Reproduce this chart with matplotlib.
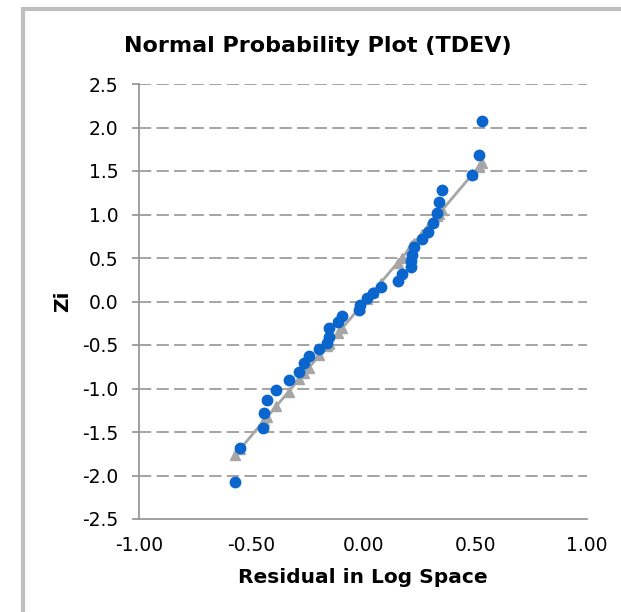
import matplotlib
matplotlib.use("Agg")
import matplotlib.pyplot as plt
from matplotlib.patches import Rectangle

plt.rcParams['font.family'] = ['DejaVu Sans']

# Residuals (x) and normal scores (z)
residual = [-0.570, -0.549, -0.448, -0.441, -0.429, -0.388, -0.332, -0.284, -0.263,
            -0.242, -0.195, -0.159, -0.153, -0.150, -0.110, -0.093, -0.017, -0.013,
            0.017, 0.043, 0.079, 0.155, 0.173, 0.216, 0.216, 0.220, 0.228, 0.263,
            0.290, 0.311, 0.332, 0.338, 0.353, 0.488, 0.517, 0.530]
zi = [-2.08, -1.688, -1.454, -1.282, -1.132, -1.017, -0.906, -0.806, -0.710,
      -0.626, -0.541, -0.472, -0.403, -0.308, -0.236, -0.167, -0.101, -0.035,
      0.035, 0.094, 0.167, 0.236, 0.316, 0.400, 0.466, 0.534, 0.630, 0.715,
      0.799, 0.906, 1.014, 1.140, 1.282, 1.450, 1.684, 2.08]
# Fitted-line values (grey triangles)
z_fit = [-1.761, -1.697, -1.389, -1.368, -1.331, -1.206, -1.036, -0.890, -0.826,
         -0.762, -0.619, -0.509, -0.491, -0.482, -0.360, -0.308, -0.077, -0.065,
         0.027, 0.106, 0.216, 0.447, 0.502, 0.633, 0.633, 0.645, 0.669, 0.776,
         0.858, 0.922, 0.986, 1.004, 1.050, 1.461, 1.549, 1.589]

x_ticks = [-1.0, -0.5, 0.0, 0.5, 1.0]
x_ticklabels = ["-1.00", "-0.50", "0.00", "0.50", "1.00"]
y_ticks = [-2.5, -2.0, -1.5, -1.0, -0.5, 0.0, 0.5, 1.0, 1.5, 2.0, 2.5]
y_ticklabels = ["-2.5", "-2.0", "-1.5", "-1.0", "-0.5", "0.0", "0.5", "1.0", "1.5", "2.0", "2.5"]

W, H = 621, 612
fig = plt.figure(figsize=(W / 100, H / 100), dpi=100)
fig.patch.set_facecolor("white")

# chart-area border (cropped on right and bottom)
fig.patches.append(Rectangle((23 / W, -0.1), 1.2, 1 - 9 / H + 0.1, transform=fig.transFigure,
                             fill=False, edgecolor="#BFBFBF", linewidth=3.0, zorder=0))

ax = fig.add_axes([139 / W, 1 - 519 / H, (587 - 139) / W, (519 - 84) / H])
ax.set_xlim(-1.0, 1.0)
ax.set_ylim(-2.5, 2.5)

for y in y_ticks[1:]:
    ax.axhline(y, color="#8C8C8C", linewidth=1.1, linestyle=(0, (8, 3.5)), zorder=1)

ax.plot(residual, z_fit, color="#A6A6A6", linewidth=2.0, marker="^", markersize=7.5,
        markerfacecolor="#A6A6A6", markeredgecolor="#A6A6A6", zorder=2)
ax.plot(residual, zi, linestyle="none", marker="o", markersize=7.5,
        markerfacecolor="#0A66CC", markeredgecolor="#0A66CC", zorder=3)

for s in ["top", "right"]:
    ax.spines[s].set_visible(False)
for s in ["left", "bottom"]:
    ax.spines[s].set_color("#999999")
    ax.spines[s].set_linewidth(1.3)

ax.set_xticks(x_ticks)
ax.set_xticklabels(x_ticklabels)
ax.set_yticks(y_ticks)
ax.set_yticklabels(y_ticklabels)
ax.tick_params(axis="y", direction="out", length=5, width=1.3, color="#999999",
               pad=10, labelsize=13.5, labelcolor="black")
ax.tick_params(axis="x", length=0, pad=12, labelsize=13.5, labelcolor="black")

ax.set_xlabel("Residual in Log Space", fontsize=14.5, fontweight="bold")
ax.xaxis.set_label_coords(0.5, -0.113)
ax.set_ylabel("Zi", fontsize=14.5, fontweight="bold")
ax.yaxis.set_label_coords(-0.150, 0.5)

fig.text(318 / W, 1 - 52 / H, "Normal Probability Plot (TDEV)", ha="center", va="baseline",
         fontsize=16, fontweight="bold")

fig.savefig("out.png", dpi=100, facecolor="white")
